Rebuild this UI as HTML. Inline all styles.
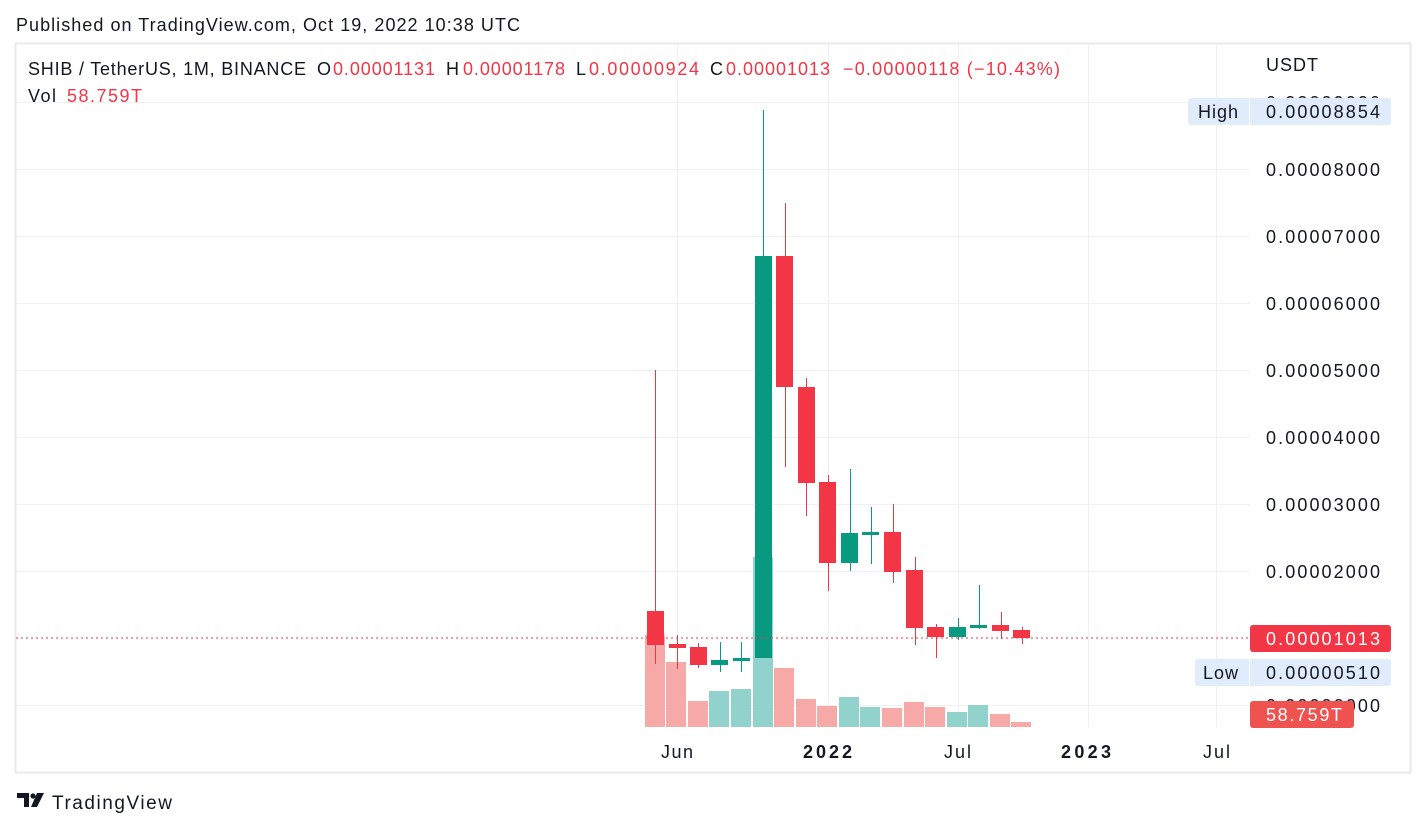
<!DOCTYPE html>
<html><head><meta charset="utf-8"><style>
body{margin:0;background:#fff;width:1426px;height:829px;overflow:hidden;font-family:"Liberation Sans",sans-serif;}
</style></head><body>
<svg width="1426" height="829" xmlns="http://www.w3.org/2000/svg" font-family="Liberation Sans, sans-serif">
<rect x="15.5" y="43.5" width="1395" height="729" fill="#fff" stroke="#e8e8ee" stroke-width="2"/>
<g stroke="#f0f0f3" stroke-width="1">
<line x1="16" x2="1250" y1="102.5" y2="102.5"/><line x1="16" x2="1250" y1="169.5" y2="169.5"/>
<line x1="16" x2="1250" y1="236.5" y2="236.5"/><line x1="16" x2="1250" y1="303.5" y2="303.5"/>
<line x1="16" x2="1250" y1="370.5" y2="370.5"/><line x1="16" x2="1250" y1="437.5" y2="437.5"/>
<line x1="16" x2="1250" y1="504.5" y2="504.5"/><line x1="16" x2="1250" y1="571.5" y2="571.5"/>
<line x1="16" x2="1250" y1="705.5" y2="705.5"/>
<line x1="677.5" x2="677.5" y1="44" y2="727"/><line x1="828.5" x2="828.5" y1="44" y2="727"/>
<line x1="958.5" x2="958.5" y1="44" y2="727"/><line x1="1088.5" x2="1088.5" y1="44" y2="727"/>
<line x1="1216.5" x2="1216.5" y1="44" y2="727"/>
</g>
<g>
<rect x="645" y="635" width="20" height="92" fill="#f7a9a7"/>
<rect x="666" y="662" width="20" height="65" fill="#f7a9a7"/>
<rect x="688" y="701" width="20" height="26" fill="#f7a9a7"/>
<rect x="709" y="691" width="20" height="36" fill="#92d2cc"/>
<rect x="731" y="689" width="20" height="38" fill="#92d2cc"/>
<rect x="753" y="557" width="20" height="170" fill="#92d2cc"/>
<rect x="774" y="668" width="20" height="59" fill="#f7a9a7"/>
<rect x="796" y="699" width="20" height="28" fill="#f7a9a7"/>
<rect x="817" y="706" width="20" height="21" fill="#f7a9a7"/>
<rect x="839" y="697" width="20" height="30" fill="#92d2cc"/>
<rect x="860" y="707" width="20" height="20" fill="#92d2cc"/>
<rect x="882" y="708" width="20" height="19" fill="#f7a9a7"/>
<rect x="904" y="702" width="20" height="25" fill="#f7a9a7"/>
<rect x="925" y="707" width="20" height="20" fill="#f7a9a7"/>
<rect x="947" y="712" width="20" height="15" fill="#92d2cc"/>
<rect x="968" y="705" width="20" height="22" fill="#92d2cc"/>
<rect x="990" y="714" width="20" height="13" fill="#f7a9a7"/>
<rect x="1011" y="722" width="20" height="5" fill="#f7a9a7"/>
</g>
<g>
<g fill="#f23645" stroke="#f23645">
<line x1="655.5" x2="655.5" y1="370" y2="664"/><rect x="647" y="611" width="17" height="34" stroke="none"/>
<line x1="677.5" x2="677.5" y1="635" y2="669"/><rect x="669" y="644" width="17" height="4" stroke="none"/>
<line x1="698.5" x2="698.5" y1="643" y2="668"/><rect x="690" y="647" width="17" height="18" stroke="none"/>
<line x1="785.5" x2="785.5" y1="203" y2="467"/><rect x="776" y="256" width="17" height="131" stroke="none"/>
<line x1="806.5" x2="806.5" y1="378" y2="516"/><rect x="798" y="387" width="17" height="96" stroke="none"/>
<line x1="828.5" x2="828.5" y1="475" y2="591"/><rect x="819" y="482" width="17" height="81" stroke="none"/>
<line x1="893.5" x2="893.5" y1="504" y2="583"/><rect x="884" y="532" width="17" height="40" stroke="none"/>
<line x1="915.5" x2="915.5" y1="557" y2="645"/><rect x="906" y="570" width="17" height="58" stroke="none"/>
<line x1="936.5" x2="936.5" y1="624" y2="658"/><rect x="927" y="627" width="17" height="10" stroke="none"/>
<line x1="1001.5" x2="1001.5" y1="612" y2="639"/><rect x="992" y="625" width="17" height="6" stroke="none"/>
<line x1="1022.5" x2="1022.5" y1="627" y2="644"/><rect x="1013" y="630" width="17" height="8" stroke="none"/>
</g>
<g fill="#089981" stroke="#089981">
<line x1="720.5" x2="720.5" y1="642" y2="672"/><rect x="711" y="660" width="17" height="5" stroke="none"/>
<line x1="741.5" x2="741.5" y1="642" y2="672"/><rect x="733" y="658" width="17" height="3" stroke="none"/>
<line x1="763.5" x2="763.5" y1="110" y2="658"/><rect x="755" y="256" width="17" height="402" stroke="none"/>
<line x1="850.5" x2="850.5" y1="469" y2="571"/><rect x="841" y="533" width="17" height="30" stroke="none"/>
<line x1="871.5" x2="871.5" y1="507" y2="564"/><rect x="862" y="532" width="17" height="3" stroke="none"/>
<line x1="958.5" x2="958.5" y1="618" y2="640"/><rect x="949" y="627" width="17" height="10" stroke="none"/>
<line x1="979.5" x2="979.5" y1="585" y2="629"/><rect x="970" y="625" width="17" height="3" stroke="none"/>
</g>
</g>
<line x1="16" x2="1250" y1="638" y2="638" stroke="#f23645" stroke-dasharray="2,3" stroke-width="1"/>
<g font-size="18" fill="#131722" lengthAdjust="spacingAndGlyphs">
<text x="1266" y="71" textLength="52">USDT</text>
<text x="1266" y="109" textLength="114">0.00009000</text>
<text x="1266" y="176" textLength="114">0.00008000</text><text x="1266" y="243" textLength="114">0.00007000</text>
<text x="1266" y="310" textLength="114">0.00006000</text><text x="1266" y="377" textLength="114">0.00005000</text>
<text x="1266" y="444" textLength="114">0.00004000</text><text x="1266" y="511" textLength="114">0.00003000</text>
<text x="1266" y="578" textLength="114">0.00002000</text><text x="1266" y="712" textLength="114">0.00000000</text>
</g>
<rect x="1188" y="98" width="203" height="27" rx="3" fill="#e0ecfb"/>
<line x1="1249.5" x2="1249.5" y1="98" y2="125" stroke="#fff"/>
<text x="1198" y="118" font-size="18" fill="#131722" textLength="40">High</text>
<text x="1266" y="118" font-size="18" fill="#131722" textLength="114">0.00008854</text>
<rect x="1250" y="625" width="141" height="27" rx="3" fill="#f23645"/>
<text x="1266" y="645" font-size="18" fill="#fff" textLength="114">0.00001013</text>
<rect x="1195" y="659" width="196" height="27" rx="3" fill="#e0ecfb"/>
<line x1="1249.5" x2="1249.5" y1="659" y2="686" stroke="#fff"/>
<text x="1203" y="679" font-size="18" fill="#131722" textLength="35">Low</text>
<text x="1266" y="679" font-size="18" fill="#131722" textLength="114">0.00000510</text>
<rect x="1250" y="701" width="104" height="27" rx="3" fill="#ef5350"/>
<text x="1266" y="721" font-size="18" fill="#fff" textLength="76">58.759T</text>
<g font-size="18" fill="#131722">
<text x="661" y="758" textLength="32">Jun</text>
<text x="803" y="758" font-weight="bold" textLength="49">2022</text>
<text x="944" y="758" textLength="27">Jul</text>
<text x="1061" y="758" font-weight="bold" textLength="50">2023</text>
<text x="1203" y="758" textLength="27">Jul</text>
</g>
<text x="16" y="31" font-size="18" fill="#131722" textLength="504">Published on TradingView.com, Oct 19, 2022 10:38 UTC</text>
<g font-size="18">
<text x="28" y="75" fill="#131722" textLength="278">SHIB / TetherUS, 1M, BINANCE</text>
<text x="317" y="75" fill="#131722">O</text><text x="333" y="75" fill="#f23645" textLength="102">0.00001131</text>
<text x="446" y="75" fill="#131722">H</text><text x="463" y="75" fill="#f23645" textLength="102">0.00001178</text>
<text x="576" y="75" fill="#131722">L</text><text x="589" y="75" fill="#f23645" textLength="110">0.00000924</text>
<text x="710" y="75" fill="#131722">C</text><text x="726" y="75" fill="#f23645" textLength="104">0.00001013</text>
<text x="843" y="75" fill="#f23645" textLength="217">−0.00000118 (−10.43%)</text>
<text x="28" y="102" fill="#131722" textLength="28">Vol</text>
<text x="67" y="102" fill="#f23645" textLength="75">58.759T</text>
</g>
<g fill="#131722">
<path d="M17 793h12v14h-5v-9h-7z"/>
<circle cx="33" cy="796" r="2.6"/>
<path d="M37 793h7l-7 14h-6z"/>
</g>
<text x="52" y="809" font-size="19" fill="#131722" textLength="120">TradingView</text>
</svg>
</body></html>
